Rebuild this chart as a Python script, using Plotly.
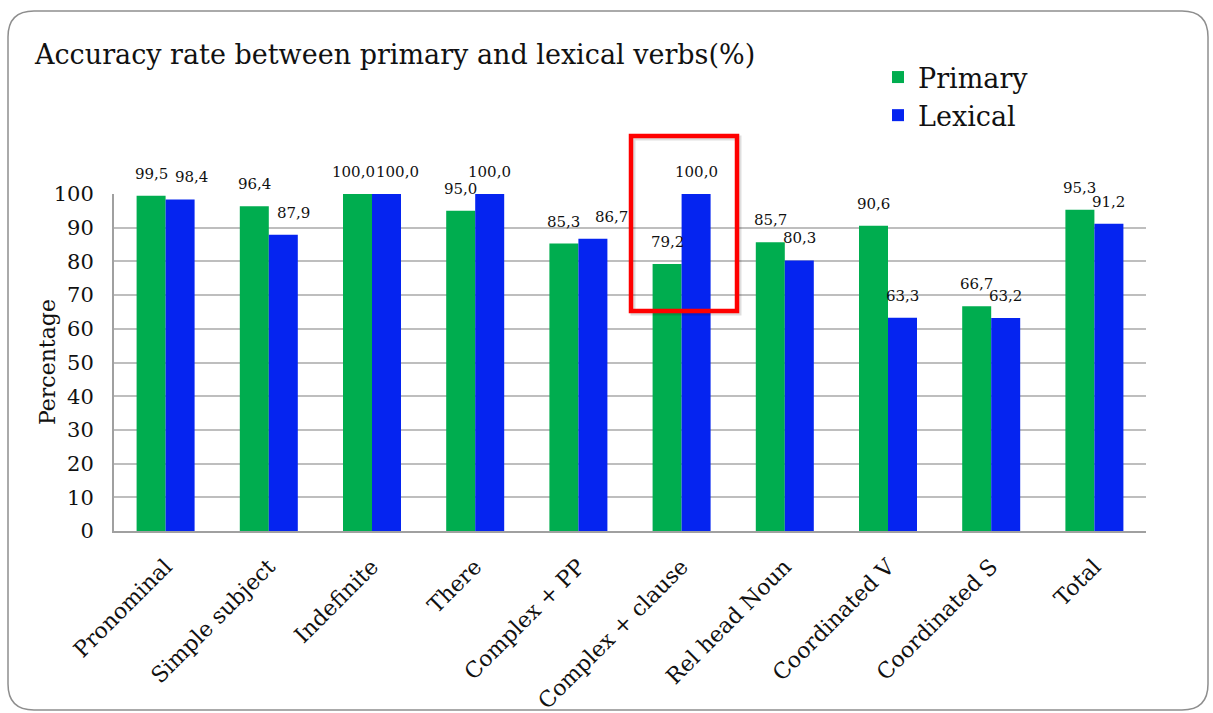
import plotly.graph_objects as go

# --- data -------------------------------------------------------------
categories = [
    "Pronominal", "Simple subject", "Indefinite", "There", "Complex + PP",
    "Complex + clause", "Rel head Noun", "Coordinated V", "Coordinated S", "Total",
]
primary = [99.5, 96.4, 100.0, 95.0, 85.3, 79.2, 85.7, 90.6, 66.7, 95.3]
lexical = [98.4, 87.9, 100.0, 100.0, 86.7, 100.0, 80.3, 63.3, 63.2, 91.2]

# horizontal nudges (px) for value labels that sit off-centre
primary_label_nudge = [0, 0, -4, 0, 0, 0, 0, 0, 0, 0]
lexical_label_nudge = [11, 10, 11, 0, 19, 0, 0, 0, 0, 0]

GREEN = "#00AD4F"
BLUE = "#0524F0"
FONT = "DejaVu Serif"

W, H = 1213, 713
ML, MR, MT, MB = 114, 67, 194, 182
PW, PH = W - ML - MR, H - MT - MB


def px_x(px):
    return (px - ML) / PW


def px_y(py):
    return (H - MB - py) / PH


def fmt(v):
    return f"{v:.1f}".replace(".", ",")


fig = go.Figure()
fig.add_trace(go.Bar(name="Primary", x=categories, y=primary,
                     marker=dict(color=GREEN, line=dict(width=0))))
fig.add_trace(go.Bar(name="Lexical", x=categories, y=lexical,
                     marker=dict(color=BLUE, line=dict(width=0))))

# value labels above each bar
bar_half = 14.5
label_font = dict(family=FONT, size=15, color="#111")
annotations = []
for cat, v, dx in zip(categories, primary, primary_label_nudge):
    annotations.append(dict(x=cat, y=v, xref="x", yref="y", text=fmt(v),
                            showarrow=False, xshift=-bar_half + dx, yshift=22,
                            font=label_font))
for cat, v, dx in zip(categories, lexical, lexical_label_nudge):
    annotations.append(dict(x=cat, y=v, xref="x", yref="y", text=fmt(v),
                            showarrow=False, xshift=bar_half + dx, yshift=22,
                            font=label_font))

# y-axis title
annotations.append(dict(x=px_x(33), y=0.5, xref="paper", yref="paper",
                        text="Percentage", textangle=-90, showarrow=False,
                        font=dict(family=FONT, size=22, color="#111")))

# rounded outer frame
x0, y0, x1, y1, r = 8, 11, 1208, 710, 26
frame = (
    f"M {px_x(x0)},{px_y(y0 + r)} "
    f"Q {px_x(x0)},{px_y(y0)} {px_x(x0 + r)},{px_y(y0)} "
    f"L {px_x(x1 - r)},{px_y(y0)} "
    f"Q {px_x(x1)},{px_y(y0)} {px_x(x1)},{px_y(y0 + r)} "
    f"L {px_x(x1)},{px_y(y1 - r)} "
    f"Q {px_x(x1)},{px_y(y1)} {px_x(x1 - r)},{px_y(y1)} "
    f"L {px_x(x0 + r)},{px_y(y1)} "
    f"Q {px_x(x0)},{px_y(y1)} {px_x(x0)},{px_y(y1 - r)} Z"
)

# highlight box around "Complex + clause" (paper coords so it is not clipped)
bx0, bx1, by0, by1 = 631, 737, 136, 311
shapes = [
    dict(type="path", path=frame, xref="paper", yref="paper",
         line=dict(color="#8E8E8E", width=1.5), layer="below"),
    dict(type="rect", xref="paper", yref="paper",
         x0=px_x(bx0 + 2), x1=px_x(bx1 + 2), y0=px_y(by1 + 2), y1=px_y(by0 + 2),
         line=dict(color="rgba(0,0,0,0.13)", width=5), layer="above"),
    dict(type="rect", xref="paper", yref="paper",
         x0=px_x(bx0), x1=px_x(bx1), y0=px_y(by1), y1=px_y(by0),
         line=dict(color="#FF0000", width=4.5), layer="above"),
]

fig.update_layout(
    width=W, height=H,
    margin=dict(l=ML, r=MR, t=MT, b=MB, autoexpand=False),
    paper_bgcolor="white", plot_bgcolor="white",
    barmode="group", bargap=0.438, bargroupgap=0,
    font=dict(family=FONT, color="#111"),
    title=dict(text="Accuracy rate between primary and lexical verbs(%)",
               x=35 / W, xanchor="left", xref="container",
               y=1 - 55 / H, yanchor="middle", yref="container",
               font=dict(family=FONT, size=27, color="#111")),
    legend=dict(x=px_x(878), y=px_y(53), xanchor="left", yanchor="top",
                font=dict(family=FONT, size=27, color="#111"),
                bgcolor="rgba(0,0,0,0)", tracegroupgap=5),
    xaxis=dict(showline=True, linecolor="#A0A0A0", linewidth=2, automargin=False,
               tickangle=-45, tickfont=dict(family=FONT, size=22, color="#111"),
               ticks="", ticklabelstandoff=12),
    yaxis=dict(range=[0, 100], dtick=10, showgrid=True, gridcolor="#BEBEBE",
               gridwidth=1.6, showline=True, linecolor="#A0A0A0", linewidth=2,
               zeroline=False, ticks="", ticklabelstandoff=14, automargin=False,
               tickfont=dict(family=FONT, size=21, color="#111")),
    annotations=annotations,
    shapes=shapes,
)

fig.write_html("out.html")
